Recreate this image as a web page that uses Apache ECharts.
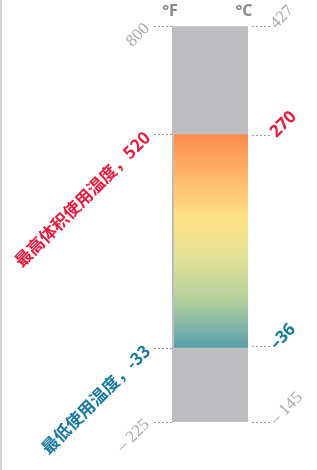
<!doctype html>
<html>
<head>
<meta charset="utf-8">
<script src="https://cdn.jsdelivr.net/npm/echarts@6/dist/echarts.min.js"></script>
<style>
* { margin: 0; padding: 0; }
#chart { width: 317px; height: 470px; }
</style>
</head>
<body>
<div id="chart"></div>
<script>
// 华氏温度刻度 / 摄氏温度刻度
var fTicks = [800, 520, -33, -225];
var cTicks = [427, 270, -36, -145];
var fRange = [-225, 800];   // 整个温度范围
var useRange = [-33, 520];  // 使用温度范围
var cRange = [-145, 427];
var highText = '最高体积使用温度，520';
var lowText = '最低使用温度，-33';
var fLabels = { '800': '800', '520': highText, '-33': lowText, '-225': '– 225' };
var cLabels = { '427': '427', '270': '270', '-36': '–36', '-145': '– 145' };

var grad = {
	type: 'linear', x: 0, y: 0, x2: 0, y2: 1,
	colorStops: [
		{ offset: 0, color: '#ff8a4c' },
		{ offset: 0.38, color: '#ffe083' },
		{ offset: 0.58, color: '#e2e296' },
		{ offset: 0.78, color: '#b2cf9c' },
		{ offset: 1, color: '#5a9fae' }
	]
};

var myChart = echarts.init(document.getElementById('chart'));

var rich = {
	num: { fontFamily: 'Liberation Serif', fontSize: 17, color: '#aaa' },
	hi: { fontFamily: 'Noto Sans CJK SC', fontWeight: 'bold', fontSize: 17, color: '#e8193c' },
	lo: { fontFamily: 'Noto Sans CJK SC', fontWeight: 'bold', fontSize: 17, color: '#17799e' }
};

var option = {
	animation: false,
	graphic: [{ type: 'rect', shape: { x: 0, y: 0, width: 2, height: 470 }, style: { fill: '#d2d2d2' } }],
	grid: { left: 172, right: 69, top: 26, bottom: 48 },
	xAxis: { type: 'value', min: 0, max: 1, show: false },
	yAxis: [{
		type: 'value', min: fRange[0], max: fRange[1], position: 'left', offset: 3,
		name: '°F', nameLocation: 'end', nameGap: 15,
		nameTextStyle: { fontFamily: 'Open Sans', fontWeight: 'bold', fontSize: 16, color: '#888', verticalAlign: 'middle', padding: [0, 4, 0, 0] },
		axisLine: { show: false }, splitLine: { show: false },
		axisTick: { show: true, length: 18, customValues: fTicks, lineStyle: { color: '#999', type: [2, 2] } },
		axisLabel: {
			customValues: fTicks, rotate: 45, margin: 22, rich: rich,
			formatter: function (v) {
				var s = fLabels[String(v)];
				if (v === 520) return '{hi|' + s + '}';
				if (v === -33) return '{lo|' + s + '}';
				return '{num|' + s + '}';
			}
		}
	}, {
		type: 'value', min: cRange[0], max: cRange[1], position: 'right', offset: 4,
		name: '°C', nameLocation: 'end', nameGap: 15,
		nameTextStyle: { fontFamily: 'Open Sans', fontWeight: 'bold', fontSize: 16, color: '#888', verticalAlign: 'middle', padding: [0, 16, 0, 0] },
		axisLine: { show: false }, splitLine: { show: false },
		axisTick: { show: true, length: 18, customValues: cTicks, lineStyle: { color: '#999', type: [2, 2] } },
		axisLabel: {
			customValues: cTicks, rotate: 45, margin: 21, rich: {
				num: rich.num,
				hi: { fontFamily: 'Open Sans', fontWeight: 'bold', fontSize: 17, color: '#e8193c' },
				lo: { fontFamily: 'Open Sans', fontWeight: 'bold', fontSize: 17, color: '#17799e' }
			},
			formatter: function (v) {
				var s = cLabels[String(v)];
				if (v === 270) return '{hi|' + s + '}';
				if (v === -36) return '{lo|' + s + '}';
				return '{num|' + s + '}';
			}
		}
	}],
	series: [{
		type: 'custom',
		yAxisIndex: 0,
		data: [[fRange[0], fRange[1], 0], [useRange[0], useRange[1], 1]],
		renderItem: function (params, api) {
			var p1 = api.coord([0, api.value(1)]);
			var p2 = api.coord([1, api.value(0)]);
			var inset = api.value(2) ? 2 : 0;
			return {
				type: 'rect',
				shape: { x: p1[0] + inset, y: p1[1], width: p2[0] - p1[0] - inset, height: p2[1] - p1[1] },
				style: { fill: api.value(2) ? grad : '#bdbdc1' }
			};
		}
	}]
};

myChart.setOption(option);
</script>
</body>
</html>
